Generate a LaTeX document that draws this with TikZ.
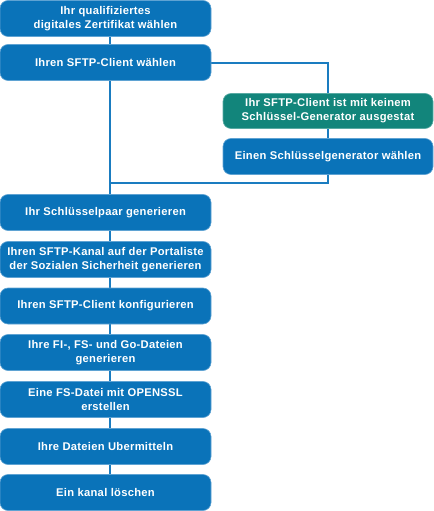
\documentclass[tikz,border=0pt]{standalone}
\usepackage{fontspec}
\setmainfont{Liberation Sans}[LetterSpace=2.5]
\usetikzlibrary{backgrounds}
\definecolor{boxblue}{HTML}{0A73B9}
\definecolor{boxgreen}{HTML}{12857B}
\definecolor{lineblue}{HTML}{1A7CC0}
\tikzset{
  stepbox/.style={draw=lineblue!70!white, line width=0.6bp, fill=boxblue, rounded corners=8bp,
    minimum width=211bp, minimum height=36bp, inner sep=0pt, align=center,
    text=white, font=\fontsize{11.2bp}{14bp}\selectfont\bfseries},
  notebox/.style={stepbox, fill=boxgreen, draw=boxgreen!70!white, minimum width=210bp, minimum height=35bp},
  link/.style={draw=lineblue, line width=2bp}
}
\begin{document}
\begin{tikzpicture}[x=1bp,y=-1bp]
\useasboundingbox (0,0) rectangle (434,511);
\node[stepbox] (b1) at (105.5,18.5) {Ihr qualifiziertes\\digitales Zertifikat wählen};
\node[stepbox] (b2) at (105.5,62.5) {Ihren SFTP-Client wählen};
\node[notebox] (g1) at (328,111) {Ihr SFTP-Client ist mit keinem\\Schlüssel-Generator ausgestat};
\node[stepbox, minimum width=210bp] (r1) at (328,156.5) {Einen Schlüsselgenerator wählen};
\node[stepbox] (b3) at (105.5,212.5) {Ihr Schlüsselpaar generieren};
\node[stepbox] (b4) at (105.5,259.5) {Ihren SFTP-Kanal auf der Portaliste\\der Sozialen Sicherheit generieren};
\node[stepbox] (b5) at (105.5,306) {Ihren SFTP-Client konfigurieren};
\node[stepbox] (b6) at (105.5,352.5) {Ihre FI-, FS- und Go-Dateien\\generieren};
\node[stepbox] (b7) at (105.5,399.5) {Eine FS-Datei mit OPENSSL\\erstellen};
\node[stepbox] (b8) at (105.5,446.5) {Ihre Dateien Ubermitteln};
\node[stepbox] (b9) at (105.5,492.5) {Ein kanal löschen};
\coordinate (top) at (110,36);
\coordinate (bot) at (110,474);
\coordinate (join) at (110,183);
\begin{scope}[on background layer]
\draw[link] (top) -- (bot);
\draw[link] (b2.east |- 0,63) -| (g1.north);
\draw[link] (g1.south) -- (r1.north);
\draw[link] (r1.south) |- (join);
\end{scope}
\end{tikzpicture}
\end{document}
